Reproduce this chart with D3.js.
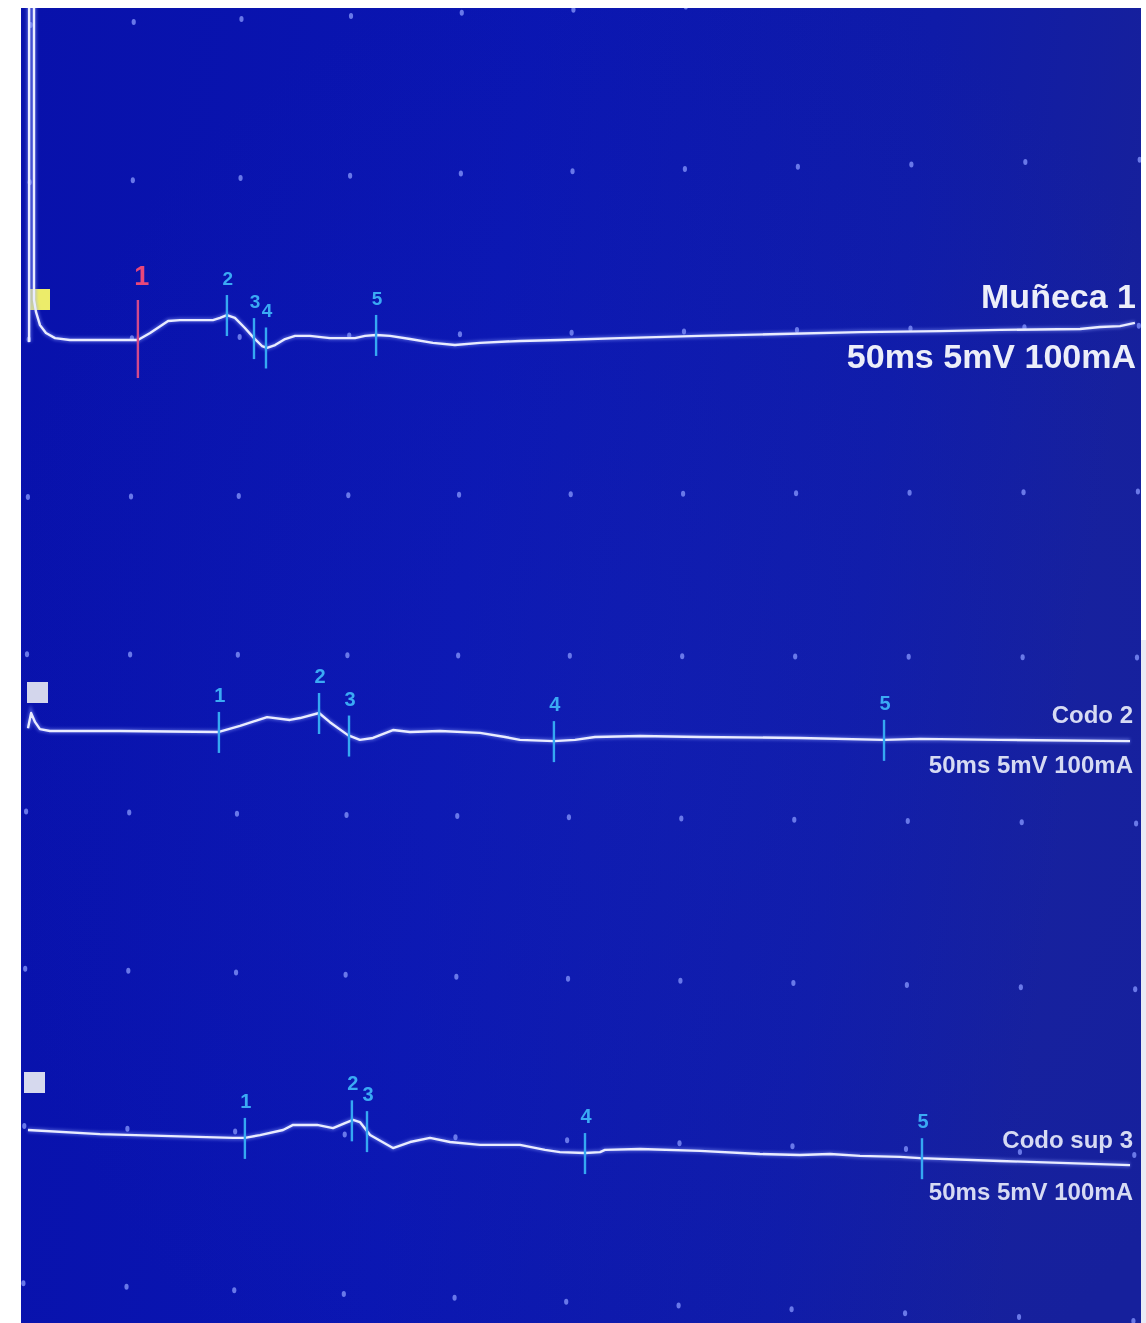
<!DOCTYPE html>
<html><head><meta charset="utf-8">
<script src="https://cdn.jsdelivr.net/npm/d3@7"></script>
<style>html,body{margin:0;padding:0;background:#fff;} svg{display:block;}</style>
</head><body>
<svg id="chart" width="1146" height="1323"></svg>
<script>
// ---------------- data (time in ms, amplitude in mV) ----------------
const traceNames = ["Muñeca 1", "Codo 2", "Codo sup 3"];
const settingsLabel = "50ms 5mV 100mA";
const markerLabels = ["1", "2", "3", "4", "5"];

const munecaTrace = [
  [0.05,-0.06],[0.05,12],[0.27,12],[0.27,1.27],[0.36,0.89],[0.54,0.47],[0.81,0.22],[1.22,0.06],[1.89,0],
  [4.95,0],[5.5,0.22],[6.31,0.60],[6.85,0.63],[8.33,0.63],[8.65,0.70],[8.96,0.79],[9.32,0.70],[9.77,0.38],
  [10.18,0.06],[10.54,-0.19],[10.77,-0.25],[11.13,-0.16],[11.58,0.03],[12.03,0.13],[12.7,0.13],[13.6,0.06],
  [14.73,0.06],[15.18,0.13],[15.68,0.16],[16.31,0.13],[17.21,0.03],[18.24,-0.09],[19.23,-0.16],[20.36,-0.09],
  [22.16,-0.03],[23.96,0],[26.67,0.06],[30.27,0.13],[33.87,0.19],[37.48,0.25],[41.08,0.28],[43.78,0.32],
  [47.39,0.35],[48.29,0.41],[49.19,0.44],[49.86,0.54]
];
const codoTrace = [
  [0,0.09],[0.14,0.57],[0.32,0.28],[0.54,0.06],[0.99,0],[4.14,0],[8.6,-0.03],[9.55,0.16],[10.77,0.44],
  [11.8,0.35],[12.25,0.41],[13.11,0.57],[13.6,0.28],[14.41,-0.13],[14.95,-0.28],[15.54,-0.22],[16.44,0.03],
  [17.21,-0.03],[18.56,0],[20.36,-0.06],[21.49,-0.19],[22.16,-0.28],[23.69,-0.32],[24.64,-0.28],[25.54,-0.19],
  [27.57,-0.16],[30.27,-0.19],[34.77,-0.22],[38.56,-0.28],[40.18,-0.25],[43.78,-0.28],[49.64,-0.32]
];
const codoSupTrace = [
  [0,0],[3.24,-0.13],[9.23,-0.25],[9.77,-0.25],[10.45,-0.16],[11.49,0],[11.94,0.16],[13.02,0.16],[13.74,0.06],
  [14.28,0.22],[14.64,0.32],[14.95,0.25],[15.41,-0.16],[16.44,-0.57],[17.21,-0.38],[18.11,-0.25],[19.01,-0.38],
  [20.36,-0.47],[22.16,-0.47],[23.29,-0.63],[23.96,-0.70],[25.09,-0.73],[25.77,-0.70],[25.99,-0.63],[27.57,-0.60],
  [30.27,-0.66],[32.97,-0.76],[34.77,-0.79],[36.13,-0.76],[37.48,-0.82],[39.28,-0.85],[40.18,-0.89],[43.78,-0.98],
  [49.64,-1.11]
];
const munecaMarkers = [4.95, 8.96, 10.18, 10.72, 15.68];
const codoMarkers = [8.6, 13.11, 14.46, 23.69, 38.56];
const codoSupMarkers = [9.77, 14.59, 15.27, 25.09, 40.27];

const timeDomain = [0, 50];           // 10 divisions x 5 ms
const gridTimes = d3.range(0, 55, 5); // grid dot columns
const gridRows = d3.range(0, 9);      // grid dot rows (5 mV each)

// ---------------- layout ----------------
const W = 1146, H = 1323;
const svg = d3.select("#chart");
const defs = svg.append("defs");

const bg = defs.append("linearGradient").attr("id","bg").attr("x1","0").attr("x2","1").attr("y1","0").attr("y2","0.15");
bg.append("stop").attr("offset","0").attr("stop-color","#0811ab");
bg.append("stop").attr("offset","0.45").attr("stop-color","#0a16b2");
bg.append("stop").attr("offset","0.8").attr("stop-color","#0f1ba8");
bg.append("stop").attr("offset","1").attr("stop-color","#16209c");
const glare = defs.append("radialGradient").attr("id","glare").attr("cx","0.55").attr("cy","0.55").attr("r","0.6");
glare.append("stop").attr("offset","0").attr("stop-color","#2030c0").attr("stop-opacity","0.2");
glare.append("stop").attr("offset","1").attr("stop-color","#2030c0").attr("stop-opacity","0");
function blurFilter(id, sd) {
  defs.append("filter").attr("id", id).attr("filterUnits","userSpaceOnUse")
    .attr("x",0).attr("y",0).attr("width",W).attr("height",H)
    .append("feGaussianBlur").attr("stdDeviation", sd);
}
blurFilter("soft", 1.6);
blurFilter("soft2", 0.45);

const screen = {x: 21, y: 8, w: 1120, h: H - 8};
defs.append("clipPath").attr("id","scr").append("rect")
  .attr("x", screen.x).attr("y", screen.y).attr("width", screen.w).attr("height", screen.h);

svg.append("rect").attr("width", W).attr("height", H).attr("fill", "#ffffff");
svg.append("rect").attr("x", screen.x).attr("y", screen.y).attr("width", screen.w).attr("height", screen.h).attr("fill", "url(#bg)");
svg.append("rect").attr("x", screen.x).attr("y", screen.y).attr("width", screen.w).attr("height", screen.h).attr("fill", "url(#glare)");
svg.append("rect").attr("x", 1141).attr("y", 640).attr("width", 5).attr("height", H - 640).attr("fill", "#e9ebf5");

const x = d3.scaleLinear().domain(timeDomain).range([28, 1138]);
// grid column positions (photo perspective: slightly widening to the right)
const xGrid = d3.scalePow().exponent(1.032).domain(timeDomain).range([27, 1137]);
const rowY = d3.scaleLinear().domain([0, 8]).range([22, 1287]);
const rowSlope = d3.scaleLinear().domain([0, 8]).range([-0.028, 0.034]);

const g = svg.append("g").attr("clip-path", "url(#scr)");

// grid dots
const dots = [];
gridRows.forEach(r => gridTimes.forEach(t => {
  const px = xGrid(t) + (4 - r) * 0.9;
  dots.push({px, py: rowY(r) + rowSlope(r) * (px - 135)});
}));
g.append("g").selectAll("ellipse").data(dots).join("ellipse")
  .attr("cx", d => d.px).attr("cy", d => d.py)
  .attr("rx", 2.1).attr("ry", 3).attr("fill", "#7383f0").attr("opacity", 0.9);

// traces
const traces = [
  {name: traceNames[0], data: munecaTrace, markers: munecaMarkers, base: 340,
   icon: {x: 29, y: -51, s: 21, fill: "#ecec6a"},
   nameFont: 34, setFont: 34, nameDy: -32, setDy: 28, right: 1136, textFill: "#eceef9",
   mkFont: 19, firstRed: true},
  {name: traceNames[1], data: codoTrace, markers: codoMarkers, base: 731,
   icon: {x: 27, y: -49, s: 21, fill: "#d3d6ec"},
   nameFont: 24, setFont: 24, nameDy: -8, setDy: 42, right: 1133, textFill: "#d6daf3",
   mkFont: 20, firstRed: false},
  {name: traceNames[2], data: codoSupTrace, markers: codoSupMarkers, base: 1130,
   icon: {x: 24, y: -58, s: 21, fill: "#d6d9ee"},
   nameFont: 24, setFont: 24, nameDy: 18, setDy: 70, right: 1133, textFill: "#d6daf3",
   mkFont: 20, firstRed: false}
];

function valueAt(data, t) {
  for (let i = data.length - 1; i > 0; i--) {
    const a = data[i - 1], b = data[i];
    if (a[0] <= t && t <= b[0] && b[0] > a[0]) {
      return a[1] + (b[1] - a[1]) * (t - a[0]) / (b[0] - a[0]);
    }
  }
  return data[data.length - 1][1];
}

traces.forEach(tr => {
  const y = d3.scaleLinear().domain([-5, 5]).range([tr.base + 158, tr.base - 158]);
  const line = d3.line().x(d => x(d[0])).y(d => y(d[1])).curve(d3.curveLinear);
  const tg = g.append("g");

  // icon square
  tg.append("rect").attr("x", tr.icon.x).attr("y", tr.base + tr.icon.y)
    .attr("width", tr.icon.s).attr("height", tr.icon.s).attr("fill", tr.icon.fill).attr("filter","url(#soft2)");

  // glow + line
  tg.append("path").datum(tr.data).attr("d", line).attr("fill","none")
    .attr("stroke","#8b9bff").attr("stroke-width",5).attr("opacity",0.45).attr("filter","url(#soft)");
  tg.append("path").datum(tr.data).attr("d", line).attr("fill","none")
    .attr("stroke","#e9ecff").attr("stroke-width",2.4).attr("stroke-linejoin","round").attr("filter","url(#soft2)");

  // markers
  tr.markers.forEach((t, i) => {
    const red = tr.firstRed && i === 0;
    const py = y(valueAt(tr.data, t));
    const px = x(t);
    const col = red ? "#d24a8c" : "#36a8f2";
    tg.append("line").attr("x1", px).attr("x2", px)
      .attr("y1", py - (red ? 40 : 20)).attr("y2", py + (red ? 38 : 21))
      .attr("stroke", col).attr("stroke-width", 2.4).attr("filter","url(#soft2)");
    tg.append("text").attr("x", px + (red ? 4 : 1)).attr("y", py - (red ? 55 : 30))
      .attr("text-anchor","middle").attr("font-family","'Liberation Sans', Arial, sans-serif")
      .attr("font-weight","bold").attr("font-size", red ? 27 : tr.mkFont)
      .attr("fill", red ? "#e8467a" : "#3aaaf4").attr("filter","url(#soft2)")
      .text(markerLabels[i]);
  });

  // labels
  tg.append("text").attr("x", tr.right).attr("y", tr.base + tr.nameDy).attr("text-anchor","end")
    .attr("font-family","'Liberation Sans', Arial, sans-serif").attr("font-weight","bold")
    .attr("font-size", tr.nameFont).attr("fill", tr.textFill).attr("filter","url(#soft2)").text(tr.name);
  tg.append("text").attr("x", tr.right).attr("y", tr.base + tr.setDy).attr("text-anchor","end")
    .attr("font-family","'Liberation Sans', Arial, sans-serif").attr("font-weight","bold")
    .attr("font-size", tr.setFont).attr("fill", tr.textFill).attr("filter","url(#soft2)").text(settingsLabel);
});
</script>
</body></html>
